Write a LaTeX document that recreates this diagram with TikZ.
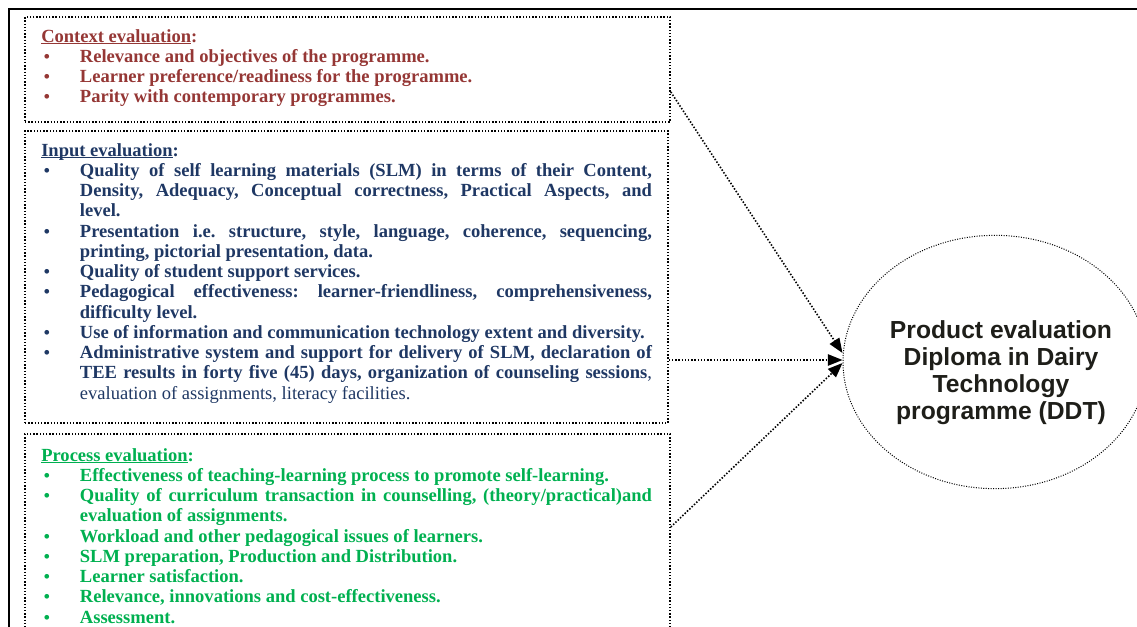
\documentclass[tikz,border=0pt]{standalone}
\usepackage{fontspec}
\setmainfont{Liberation Serif}
\newfontfamily\ddtfont{Liberation Sans}
\usetikzlibrary{shapes.geometric,arrows.meta,fit}
\frenchspacing
\definecolor{ctxred}{RGB}{149,55,53}
\definecolor{inpblue}{RGB}{31,56,100}
\definecolor{prcgreen}{RGB}{0,176,80}
\definecolor{ddtblack}{RGB}{30,30,25}
\newcommand{\evul}[1]{\setbox0\hbox{#1}\rlap{\rule[-1.6pt]{\wd0}{0.9pt}}\box0}
\newenvironment{evlist}{\begin{list}{\textbullet}{%
  \setlength{\leftmargin}{29pt}\setlength{\labelwidth}{29pt}%
  \setlength{\labelsep}{0pt}\setlength{\itemindent}{0pt}%
  \setlength{\topsep}{0pt}\setlength{\partopsep}{0pt}%
  \setlength{\itemsep}{0pt}\setlength{\parsep}{0pt}%
  \renewcommand{\makelabel}[1]{\hspace{2pt}{\fontsize{13}{13}\selectfont##1}\hfil}}}{\end{list}}
\tikzset{
  evbox/.style={draw, line width=1.2pt, dash pattern=on 1.1pt off 1.3pt, inner sep=0pt},
  evtext/.style={anchor=base west, text width=458pt, align=justify, inner sep=0pt,
    font=\fontsize{13.9}{15.2}\selectfont\bfseries},
  flow/.style={line width=1.2pt, dash pattern=on 1.1pt off 1.3pt,
    -{Triangle[length=11pt,width=8.5pt]}},
  ddtshape/.style={draw, line width=0.75pt, dash pattern=on 0.75pt off 1.1pt,
    ellipse, inner sep=0pt, minimum width=228pt, minimum height=190pt},
  ddttext/.style={align=center, text=ddtblack,
    font=\ddtfont\bfseries\fontsize{18.5}{20.3}\selectfont}
}
\begin{document}
\begin{tikzpicture}[x=0.75pt,y=-0.75pt]
\useasboundingbox (0,0) rectangle (1137,626);
% page frame
\draw[line width=0.8pt] (1200,9) -- (9,9) -- (9,700);
% the three boxes
\node[evbox, fit={(25,17) (670,122)}] (ctx) {};
\node[evbox, fit={(25,131) (668,423)}] (inp) {};
\node[evbox, fit={(25,434) (670,680)}] (prc) {};
\node[evtext, text=ctxred] (ctxtext) at (41,42) {%
\evul{Context evaluation}:
\begin{evlist}
\item Relevance and objectives of the programme.
\item Learner preference/readiness for the programme.
\item Parity with contemporary programmes.
\end{evlist}};
\node[evtext, text=inpblue] (inptext) at (41,156) {%
\evul{Input evaluation}:
\begin{evlist}
\item Quality of self learning materials (SLM) in terms of their Content,\linebreak
Density, Adequacy, Conceptual correctness, Practical Aspects, and\linebreak level.
\item Presentation i.e. structure, style, language, coherence, sequencing,\linebreak
printing, pictorial presentation, data.
\item Quality of student support services.
\item Pedagogical effectiveness: learner-friendliness, comprehensiveness,\linebreak
difficulty level.
\item Use of information and communication technology extent and diversity.
\item Administrative system and support for delivery of SLM, declaration of\linebreak
TEE results in forty five (45) days, organization of counseling sessions{\mdseries,}\linebreak
{\mdseries evaluation of assignments, literacy facilities.}
\end{evlist}};
\node[evtext, text=prcgreen] (prctext) at (41,461) {%
\evul{Process evaluation}:
\begin{evlist}
\item Effectiveness of teaching-learning process to promote self-learning.
\item Quality of curriculum transaction in counselling, (theory/practical)and\linebreak
evaluation of assignments.
\item Workload and other pedagogical issues of learners.
\item SLM preparation, Production and Distribution.
\item Learner satisfaction.
\item Relevance, innovations and cost-effectiveness.
\item Assessment.
\end{evlist}};
% product evaluation
\node[ddtshape] (ddt) at (995,362) {};
\node[ddttext] (ddtlabel) at (1001,373) {Product evaluation\\Diploma in Dairy\\Technology\\programme (DDT)};
\draw[flow] (ctx.east |- 0,92) -- (ddt.west |- 0,353);
\draw[flow] (inp.east |- 0,360) -- (ddt.west |- 0,360);
\draw[flow] (prc.east |- 0,527) -- (ddt.west |- 0,363);
\end{tikzpicture}
\end{document}
